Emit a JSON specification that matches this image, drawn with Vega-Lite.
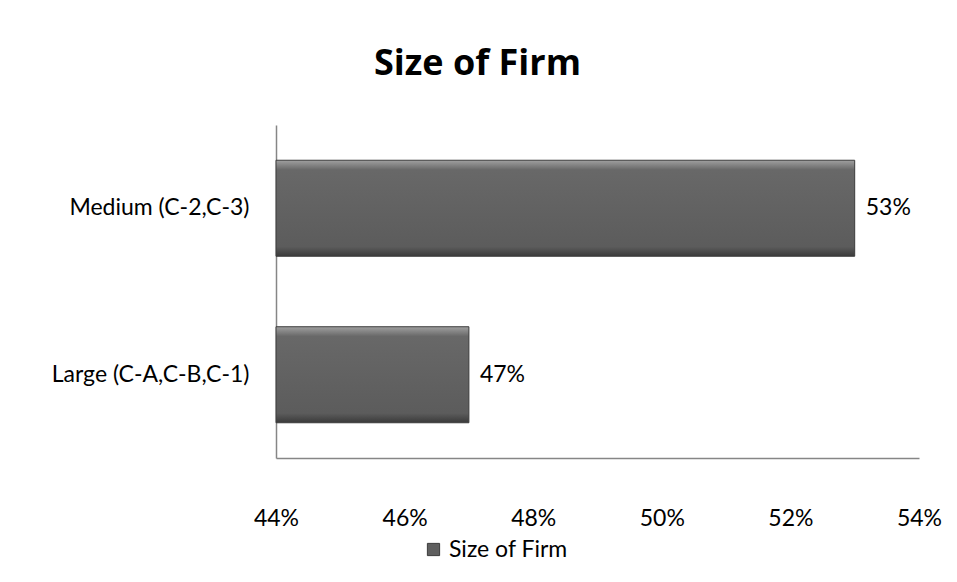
{
  "$schema": "https://vega.github.io/schema/vega-lite/v6.json",
  "autosize": {"type": "none"},
  "padding": {"left": 276, "top": 125, "right": 38, "bottom": 124},
  "width": 643,
  "height": 333,
  "background": "white",
  "title": {
    "text": "Size of Firm",
    "font": "Open Sans",
    "fontSize": 36,
    "fontWeight": "bold",
    "color": "#000000",
    "anchor": "middle",
    "dx": -120,
    "offset": 42
  },
  "data": {
    "values": [
      {"category": "Medium (C-2,C-3)", "value": 0.53, "series": "Size of Firm"},
      {"category": "Large (C-A,C-B,C-1)", "value": 0.47, "series": "Size of Firm"}
    ]
  },
  "config": {
    "view": {"stroke": null},
    "font": "Lato"
  },
  "encoding": {
    "y": {
      "field": "category",
      "type": "nominal",
      "sort": ["Medium (C-2,C-3)", "Large (C-A,C-B,C-1)"],
      "scale": {"paddingInner": 0.4234, "paddingOuter": 0.2117},
      "axis": {
        "title": null,
        "ticks": false,
        "domainColor": "#868686",
        "domainWidth": 1.5,
        "labelFont": "Lato",
        "labelFontSize": 23,
        "labelLimit": 400,
        "labelColor": "#000000",
        "labelPadding": 27
      }
    },
    "x": {
      "field": "value",
      "type": "quantitative",
      "scale": {"domain": [0.44, 0.54], "zero": false, "nice": false},
      "axis": {
        "title": null,
        "format": ".0%",
        "values": [0.44, 0.46, 0.48, 0.5, 0.52, 0.54],
        "ticks": false,
        "grid": false,
        "domainColor": "#868686",
        "domainWidth": 1.5,
        "labelFont": "Lato",
        "labelFontSize": 23,
        "labelColor": "#000000",
        "labelPadding": 49,
        "labelFlush": false
      }
    }
  },
  "layer": [
    {
      "mark": {
        "type": "bar",
        "stroke": "#3c3c3c",
        "strokeWidth": 1,
        "fill": {
          "gradient": "linear",
          "x1": 0, "y1": 0, "x2": 0, "y2": 1,
          "stops": [
            {"offset": 0, "color": "#a0a0a0"},
            {"offset": 0.1, "color": "#686868"},
            {"offset": 0.9, "color": "#5c5c5c"},
            {"offset": 1, "color": "#3a3a3a"}
          ]
        }
      },
      "encoding": {
        "x2": {"datum": 0.44}
      }
    },
    {
      "mark": {"type": "bar", "opacity": 0},
      "encoding": {
        "x2": {"datum": 0.44},
        "color": {
          "field": "series",
          "type": "nominal",
          "scale": {"range": ["#5f5f5f"]},
          "legend": {
            "title": null,
            "orient": "none",
            "legendX": 146,
            "legendY": 413,
            "symbolType": "square",
            "symbolSize": 150,
            "symbolOpacity": 1,
            "symbolStrokeColor": "#3c3c3c",
            "symbolStrokeWidth": 1,
            "labelFont": "Lato",
            "labelFontSize": 23,
            "labelColor": "#000000",
            "labelOffset": 4
          }
        }
      }
    },
    {
      "mark": {
        "type": "text",
        "align": "left",
        "baseline": "middle",
        "dx": 11,
        "font": "Lato",
        "fontSize": 23,
        "color": "#000000"
      },
      "encoding": {
        "text": {"field": "value", "type": "quantitative", "format": ".0%"}
      }
    }
  ]
}
